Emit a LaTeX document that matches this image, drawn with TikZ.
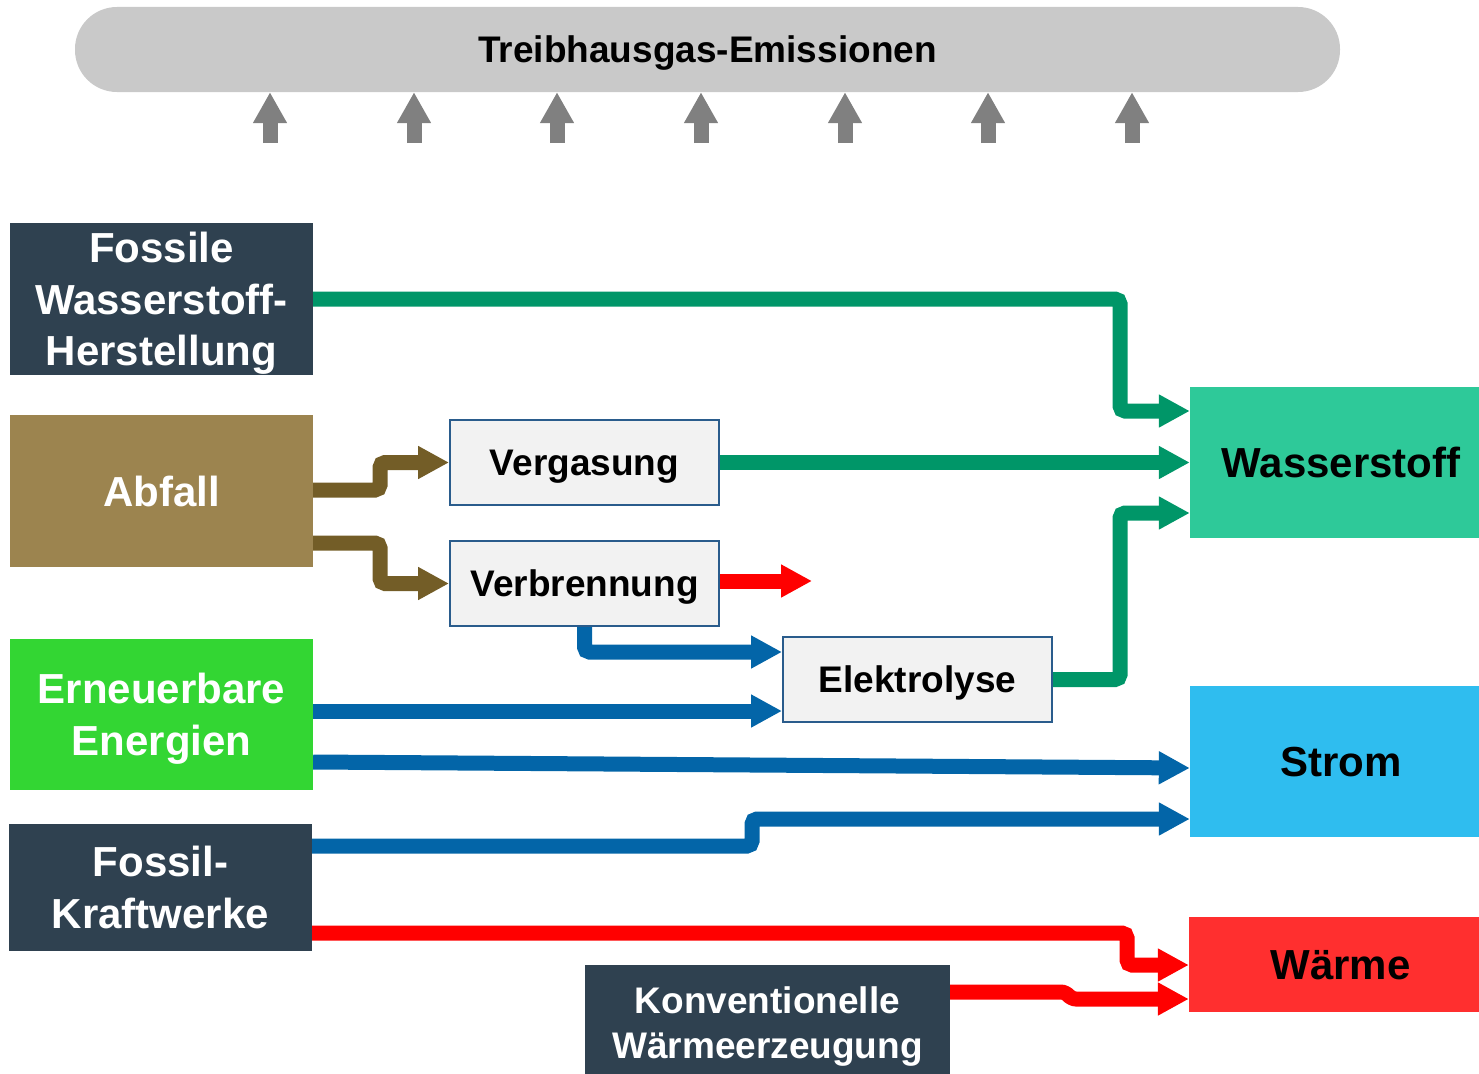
\documentclass[tikz,border=0pt]{standalone}
\usepackage{fontspec}
\setmainfont{Liberation Sans}
\usetikzlibrary{arrows.meta}
\definecolor{slate}{HTML}{2F4150}
\definecolor{abfall}{HTML}{9C844F}
\definecolor{erneu}{HTML}{33D633}
\definecolor{wstc}{HTML}{2EC999}
\definecolor{stromc}{HTML}{2FBDEF}
\definecolor{waermec}{HTML}{FF2F2F}
\definecolor{procfill}{HTML}{F2F2F2}
\definecolor{procline}{HTML}{2A5C8C}
\definecolor{cgreen}{HTML}{009668}
\definecolor{cbrown}{HTML}{735D27}
\definecolor{cblue}{HTML}{0365A8}
\definecolor{cred}{HTML}{FF0000}
\definecolor{cgray}{HTML}{808080}
\definecolor{bar}{HTML}{C9C9C9}
\tikzset{
  srcbox/.style={inner sep=0pt, align=center, text=white,
    font=\fontsize{42}{52}\selectfont\bfseries, text height=30pt, text depth=0pt},
  sinkbox/.style={inner sep=0pt, align=center, text=black, minimum width=302pt,
    font=\fontsize{42}{52}\selectfont\bfseries, text height=30pt, text depth=0pt},
  procbox/.style={fill=procfill, draw=procline, line width=2pt, minimum width=269pt,
    minimum height=85pt, inner sep=0pt,
    font=\fontsize{37}{45}\selectfont\bfseries, text height=26.5pt, text depth=0pt},
  conn/.style={line width=15pt, rounded corners=5pt, -{Triangle[length=31pt,width=31pt]}},
  emis/.style={line width=15pt, draw=cgray, -{Triangle[length=31pt,width=32pt]}},
}
\begin{document}
\begin{tikzpicture}[x=1pt,y=-1pt]
\useasboundingbox (0,0) rectangle (1479,1073);
% top bar
\node[fill=bar, rounded corners=42pt, minimum width=1265pt, minimum height=85pt, inner sep=0pt,
  font=\fontsize{37}{45}\selectfont\bfseries, text height=26.5pt, text depth=0pt] (top) at (707.5,49.5) {Treibhausgas-Emissionen};
\foreach \i/\xx in {1/270,2/414,3/557,4/701,5/845,6/988,7/1132}{
  \coordinate (e\i) at (\xx,143);
  \draw[emis] (e\i) -- (top.south -| e\i);
}
% sources
\node[srcbox, fill=slate, minimum width=303pt, minimum height=152pt,
  font=\fontsize{42}{51.5}\selectfont\bfseries, text height=133pt, text depth=-6pt] (fwh) at (161.5,299) {Fossile\\Wasserstoff-\\Herstellung};
\node[srcbox, fill=abfall, minimum width=303pt, minimum height=152pt] (abf) at (161.5,491) {Abfall};
\node[srcbox, fill=erneu, minimum width=303pt, minimum height=151pt, text height=82pt, text depth=-2pt] (ern) at (161.5,714.5) {Erneuerbare\\Energien};
\node[srcbox, fill=slate, minimum width=303pt, minimum height=127pt, text height=82pt, text depth=-2pt] (fkw) at (160.5,887.5) {Fossil-\\Kraftwerke};
\node[srcbox, fill=slate, minimum width=365pt, minimum height=115pt,
  font=\fontsize{37}{45}\selectfont\bfseries, text height=71.5pt, text depth=0pt] (kon) at (767.5,1022.5) {Konventionelle\\Wärmeerzeugung};
% processes
\node[procbox] (verg) at (584.5,462.5) {Vergasung};
\node[procbox] (verb) at (584.5,583.5) {Verbrennung};
\node[procbox] (elek) at (917.5,679.5) {Elektrolyse};
% sinks
\node[sinkbox, fill=wstc, minimum height=151pt] (wst) at (1341,462.5) {Wasserstoff};
\node[sinkbox, fill=stromc, minimum height=151pt] (strom) at (1341,761.5) {Strom};
\node[sinkbox, fill=waermec, minimum height=95pt, minimum width=303pt] (waerme) at (1340.5,964.5) {Wärme};
% green connectors
\draw[conn, draw=cgreen] (fwh.east |- 0,299) -- (1120,299) -- (1120,411) -- (wst.west |- 0,411);
\draw[conn, draw=cgreen] (verg.east) -- (wst.west |- verg.east);
\draw[conn, draw=cgreen] (elek.east) -- (1120,679.5) -- (1120,513) -- (wst.west |- 0,513);
% brown connectors
\draw[conn, draw=cbrown] (abf.east |- 0,490) -- (380,490) -- (380,462.5) -- (verg.west);
\draw[conn, draw=cbrown] (abf.east |- 0,543) -- (380,543) -- (380,583.5) -- (verb.west);
% red from Verbrennung
\coordinate (heatout) at (812,581);
\draw[conn, draw=cred] (verb.east |- heatout) -- (heatout);
% blue connectors
\draw[conn, draw=cblue] (verb.south) -- (584.5,652) -- (elek.west |- 0,652);
\draw[conn, draw=cblue] (ern.east |- 0,711) -- (elek.west |- 0,711);
\draw[conn, draw=cblue] (ern.east |- 0,762) -- (strom.west |- 0,768);
\draw[conn, draw=cblue] (fkw.east |- 0,846) -- (752,846) -- (752,819) -- (strom.west |- 0,819);
% red connectors
\draw[conn, draw=cred] (fkw.east |- 0,933) -- (1127,933) -- (1127,965) -- (waerme.west |- 0,965);
\draw[conn, draw=cred] (kon.east |- 0,992) -- (1066,992) -- (1071,999) -- (waerme.west |- 0,999);
\end{tikzpicture}
\end{document}
